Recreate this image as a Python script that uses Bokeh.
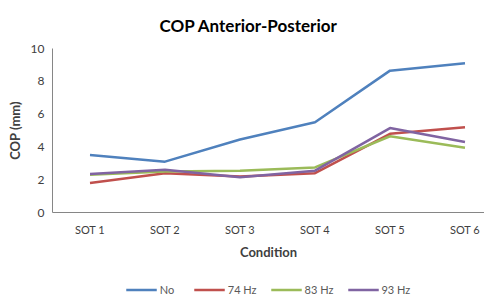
from bokeh.plotting import figure
from bokeh.models import Legend, LegendItem, FixedTicker, Range1d
from bokeh.layouts import column
from bokeh.embed import file_html
from bokeh.resources import INLINE

categories = ["SOT 1", "SOT 2", "SOT 3", "SOT 4", "SOT 5", "SOT 6"]
series_names = ["No", "74 Hz", "83 Hz", "93 Hz"]
no_vib = [3.5, 3.1, 4.45, 5.5, 8.65, 9.1]
hz74 = [1.8, 2.4, 2.2, 2.4, 4.8, 5.2]
hz83 = [2.3, 2.5, 2.55, 2.75, 4.65, 3.95]
hz93 = [2.35, 2.6, 2.15, 2.55, 5.15, 4.3]
y_ticks = [0, 2, 4, 6, 8, 10]

colors = ["#4F81BD", "#C0504D", "#9BBB59", "#8064A2"]
FONT = "Lato"

xs = list(range(1, len(categories) + 1))
all_series = [no_vib, hz74, hz83, hz93]

p = figure(frame_width=432, frame_height=164, output_backend="svg", toolbar_location=None,
           x_range=Range1d(0.5, 6.26), y_range=Range1d(0, 10),
           min_border_left=52, min_border_right=0, min_border_top=40,
           min_border_bottom=0)
p.outline_line_color = None
p.grid.visible = False

p.title.text = "COP Anterior-Posterior"
p.title.align = "left"
p.title.offset = 107
p.title.text_font = FONT
p.title.text_font_style = "bold"
p.title.text_font_size = "17px"
p.title.text_color = "#000000"
p.title.standoff = 25

for ax in (p.xaxis[0], p.yaxis[0]):
    ax.major_tick_line_color = None
    ax.minor_tick_line_color = None
    ax.major_tick_out = 0
    ax.major_tick_in = 0
    ax.minor_tick_out = 0
    ax.axis_line_color = "#868686"
    ax.axis_line_width = 1
    ax.major_label_text_font = FONT
    ax.major_label_text_font_size = "11px"
    ax.major_label_text_color = "#404040"
    ax.axis_label_text_font = FONT
    ax.axis_label_text_font_size = "13px"
    ax.axis_label_text_font_style = "bold"
    ax.axis_label_text_color = "#404040"

p.xaxis.ticker = FixedTicker(ticks=xs)
p.xaxis.major_label_overrides = {x: c for x, c in zip(xs, categories)}
p.xaxis.axis_label = "Condition"
p.xaxis.major_label_standoff = 10
p.xaxis.axis_label_standoff = 5

p.yaxis.ticker = FixedTicker(ticks=y_ticks)
p.yaxis.axis_label = "COP (mm)"
p.yaxis.major_label_text_font_size = "12px"
p.yaxis.major_label_standoff = 8
p.yaxis.axis_label_standoff = 5

for ys, c in zip(all_series, colors):
    p.line(xs, ys, line_color=c, line_width=2.5)

# legend strip below the chart (its lines lie outside its visible range)
lg = figure(width=484, height=40, output_backend="svg", toolbar_location=None,
            x_range=Range1d(0.5, 6.26), y_range=Range1d(-101, -100),
            min_border_left=16, min_border_right=0, min_border_top=14,
            min_border_bottom=0)
lg.outline_line_color = None
lg.grid.visible = False
lg.axis.visible = False

items = []
for name, ys, c in zip(series_names, all_series, colors):
    r = lg.line(xs, ys, line_color=c, line_width=2.5)
    items.append(LegendItem(label=name, renderers=[r]))

legend = Legend(items=items, orientation="horizontal", location="center")
legend.border_line_color = None
legend.background_fill_alpha = 0
legend.label_text_font = FONT
legend.label_text_font_size = "11px"
legend.label_text_color = "#595959"
legend.glyph_width = 31
legend.glyph_height = 10
legend.label_standoff = 3
legend.spacing = 14
legend.padding = 0
legend.margin = 0
lg.add_layout(legend, "center")

layout = column(p, lg, spacing=0)
open("out.html", "w").write(file_html(layout, INLINE))
